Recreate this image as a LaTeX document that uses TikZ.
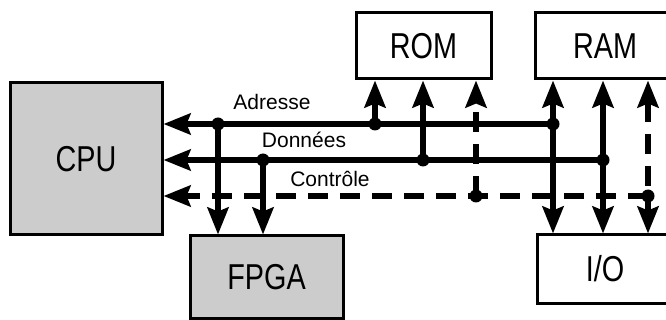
\documentclass[tikz,border=0pt]{standalone}
\usepackage{fontspec}
\setmainfont{Liberation Sans}
\newfontfamily\boxfont[FakeStretch=0.8]{Liberation Sans}
\usetikzlibrary{arrows.meta}
\usetikzlibrary{positioning}
\definecolor{chipgray}{gray}{0.8}

\begin{document}
\begin{tikzpicture}[%
        x=1pt, y=-1pt,
        box/.style={rectangle, draw, line width=3pt, inner sep=0pt, font=\boxfont\fontsize{36}{36}\selectfont},
        lbl/.style={anchor=base, inner sep=0pt, font=\fontsize{21}{21}\selectfont},
        bus/.style={line width=5.5pt},
        ctl/.style={bus, dash pattern=on 20pt off 12pt},
        >={Stealth[length=27pt,width=21pt,inset=4pt]}
      ]
      \useasboundingbox (0,0) rectangle (666,320);
      \clip (0,0) rectangle (666,320);
      \node [] (cpu) [box, fill=chipgray, minimum width=152pt, minimum height=152pt] at (86,159) {CPU};
      \node [] (fpga) [box, fill=chipgray, minimum width=153pt, minimum height=82pt] at (266.5,277) {FPGA};
      \node [] (rom) [box, minimum width=135pt, minimum height=66pt] at (423.5,46) {ROM};
      \node [] (ram) [box, minimum width=140pt, minimum height=66pt] at (605,46) {RAM};
      \node [] (io) [box, minimum width=136pt, minimum height=68pt] at (605,269) {I/O};
      \node [] (adrlbl) [lbl] at (272,110) {Adresse};
      \node [] (datlbl) [lbl] at (304,148) {Données};
      \node [] (ctllbl) [lbl] at (330,187) {Contrôle};
      \coordinate (a1) at (218,124);
      \coordinate (a2) at (375,124);
      \coordinate (a3) at (553,124);
      \coordinate (d1) at (263,160);
      \coordinate (d2) at (423,160);
      \coordinate (d3) at (603,160);
      \coordinate (c2) at (476,196);
      \coordinate (c3) at (648,196);
      \path [draw, bus] (a3) edge[->] (a3 -| cpu.east)
      (d3) edge[->] (d3 -| cpu.east)
      (a1) edge[->] (a1 |- fpga.north)
      (d1) edge[->] (d1 |- fpga.north)
      (a2) edge[->] (a2 |- rom.south)
      (d2) edge[->] (d2 |- rom.south)
      (ram.south -| a3) edge[<->] (io.north -| a3)
      (ram.south -| d3) edge[<->] (io.north -| d3);
      \path [draw, ctl] (c3) edge[->] (c3 -| cpu.east)
      (c2) edge[->] (c2 |- rom.south)
      (ram.south -| c3) edge[<->] (io.north -| c3);
      \foreach \p in {a1,a2,a3,d1,d2,d3,c2,c3}
        \fill (\p) circle (6.5pt);
     \end{tikzpicture}
\end{document}
